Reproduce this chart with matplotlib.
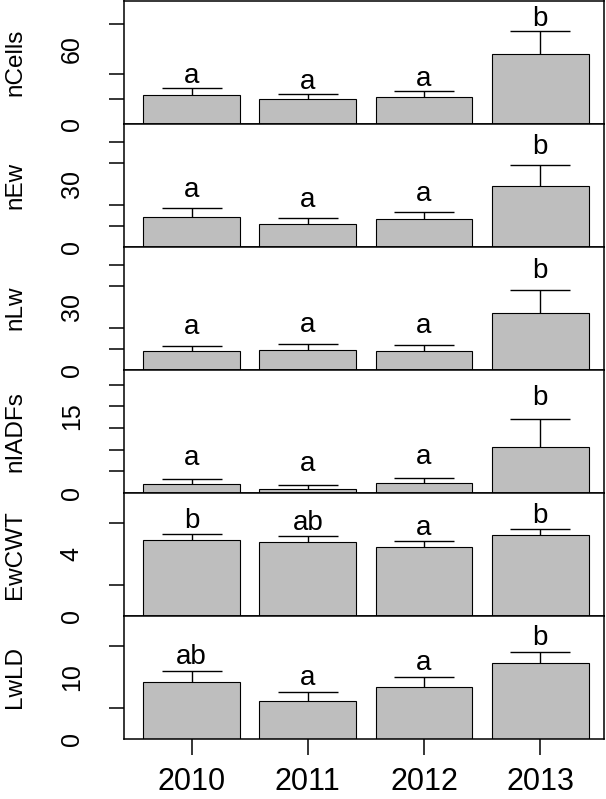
import matplotlib
matplotlib.use('Agg')
import matplotlib.pyplot as plt
from matplotlib.ticker import FixedLocator, NullFormatter

plt.rcParams['font.family'] = ['Liberation Sans', 'DejaVu Sans']

years = ['2010', '2011', '2012', '2013']
variables = ['nCells', 'nEw', 'nLw', 'nIADFs', 'EwCWT', 'LwLD']

# means and upper standard errors
ncells_mean = [22.9, 19.7, 21.6, 56.0]
ncells_se = [5.6, 4.3, 4.8, 18.6]
new_mean = [14.0, 11.1, 13.2, 29.2]
new_se = [4.3, 2.7, 3.3, 9.8]
nlw_mean = [9.1, 9.3, 8.8, 27.4]
nlw_se = [2.4, 2.9, 2.9, 10.6]
niadfs_mean = [2.1, 0.9, 2.2, 10.7]
niadfs_se = [1.15, 0.85, 1.15, 6.3]
ewcwt_mean = [4.92, 4.79, 4.48, 5.24]
ewcwt_se = [0.34, 0.34, 0.33, 0.37]
lwld_mean = [9.1, 6.1, 8.3, 12.2]
lwld_se = [1.8, 1.45, 1.65, 1.8]

ncells_letters = ['a', 'a', 'a', 'b']
new_letters = ['a', 'a', 'a', 'b']
nlw_letters = ['a', 'a', 'a', 'b']
niadfs_letters = ['a', 'a', 'a', 'b']
ewcwt_letters = ['b', 'ab', 'a', 'b']
lwld_letters = ['ab', 'a', 'a', 'b']

means = [ncells_mean, new_mean, nlw_mean, niadfs_mean, ewcwt_mean, lwld_mean]
ses = [ncells_se, new_se, nlw_se, niadfs_se, ewcwt_se, lwld_se]
letters = [ncells_letters, new_letters, nlw_letters, niadfs_letters,
           ewcwt_letters, lwld_letters]

# axis settings per panel
ytop = [99, 59, 59, 28.5, 7.95, 19.8]
ytick_marks = [[0, 20, 40, 60, 80],
               [0, 10, 20, 30, 40, 50],
               [0, 10, 20, 30, 40, 50],
               [0, 5, 10, 15, 20, 25],
               [0, 2, 4, 6],
               [0, 5, 10, 15]]
ylabel_pos = [[0, 60], [0, 30], [0, 30], [0, 17.7], [0, 4], [0, 10]]
ylabel_txt = [['0', '60'], ['0', '30'], ['0', '30'], ['0', '15'], ['0', '4'], ['0', '10']]
letter_gap = [5, 11, 12, 14, 6, 7]  # pixels above the cap

fig, axes = plt.subplots(6, 1, figsize=(6.06, 7.99), dpi=100)
fig.subplots_adjust(left=124 / 606, right=604 / 606, top=1 - 0.5 / 799,
                    bottom=1 - 739 / 799, hspace=0)

x = [0.7 + 1.2 * i for i in range(len(years))]
fs_axis = 18
fs_ylab = 17.5
fs_years = 22
fs_letter = 20

for k, ax in enumerate(axes):
    m = means[k]
    s = ses[k]
    ax.bar(x, m, width=1, color='#bebebe', edgecolor='black', linewidth=0.8, zorder=2)
    upper = [a + b for a, b in zip(m, s)]
    ax.vlines(x, m, upper, color='black', linewidth=1.0, zorder=3)
    ax.hlines(upper, [xi - 0.31 for xi in x], [xi + 0.31 for xi in x],
              color='black', linewidth=1.0, zorder=3)
    for xi, u, t in zip(x, upper, letters[k]):
        ax.annotate(t, (xi, u), xytext=(0, letter_gap[k]), textcoords='offset pixels',
                    ha='center', va='baseline', fontsize=fs_letter)

    ax.set_xlim(0, 4.96)
    ax.set_ylim(0, ytop[k])
    for sp in ax.spines.values():
        sp.set_linewidth(1.1)

    ax.yaxis.set_minor_locator(FixedLocator(ytick_marks[k]))
    ax.yaxis.set_minor_formatter(NullFormatter())
    ax.set_yticks(ylabel_pos[k])
    ax.set_yticklabels(ylabel_txt[k], rotation=90, va='center', fontsize=fs_axis)
    ax.tick_params(axis='y', which='major', length=0, pad=29)
    ax.tick_params(axis='y', which='minor', length=11, width=1.1)

    ax.set_ylabel(variables[k], fontsize=fs_ylab, va='center')
    ax.yaxis.set_label_coords(-0.227, 0.5)

    if k == len(axes) - 1:
        ax.set_xticks(x)
        ax.set_xticklabels(years, fontsize=fs_years)
        ax.tick_params(axis='x', length=11.5, width=1.1, pad=9)
    else:
        ax.set_xticks([])

fig.savefig('out.png', dpi=100)
